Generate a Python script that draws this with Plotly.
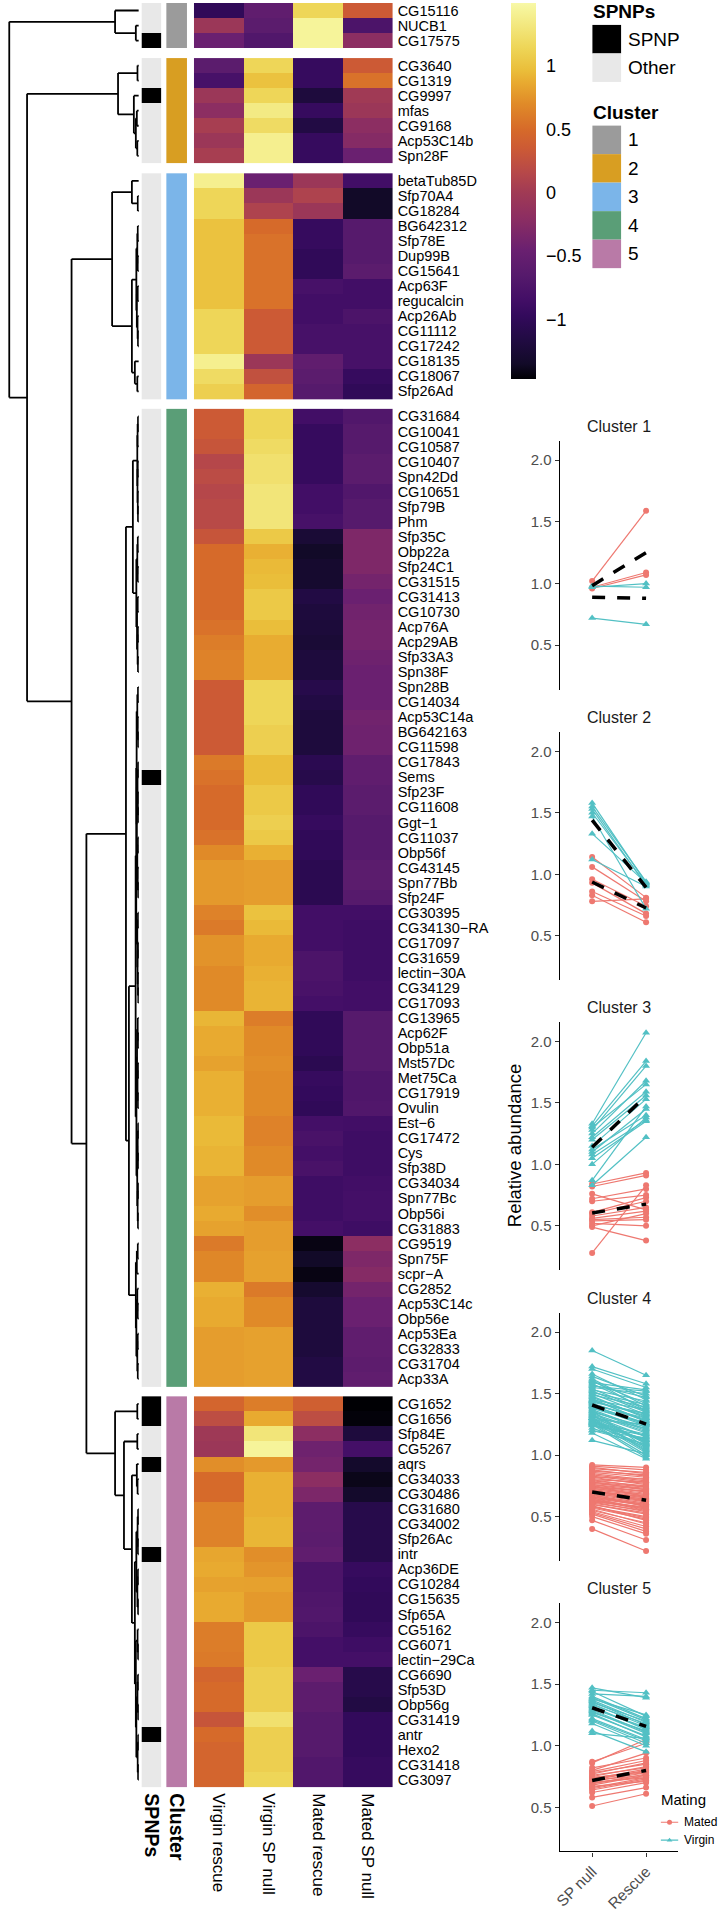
import plotly.graph_objects as go

W, H = 720, 1912
FONT = "Liberation Sans, Arial, Helvetica, sans-serif"

# ---------------- data ----------------
conditions = ["Virgin rescue", "Virgin SP null", "Mated rescue", "Mated SP null"]

cluster1_genes = ["CG15116", "NUCB1", "CG17575"]
cluster2_genes = ["CG3640", "CG1319", "CG9997", "mfas", "CG9168", "Acp53C14b", "Spn28F"]
cluster3_genes = ["betaTub85D", "Sfp70A4", "CG18284", "BG642312", "Sfp78E", "Dup99B", "CG15641",
                  "Acp63F", "regucalcin", "Acp26Ab", "CG11112", "CG17242", "CG18135", "CG18067", "Sfp26Ad"]
cluster4_genes = ["CG31684", "CG10041", "CG10587", "CG10407", "Spn42Dd", "CG10651", "Sfp79B", "Phm",
                  "Sfp35C", "Obp22a", "Sfp24C1", "CG31515", "CG31413", "CG10730", "Acp76A", "Acp29AB",
                  "Sfp33A3", "Spn38F", "Spn28B", "CG14034", "Acp53C14a", "BG642163", "CG11598", "CG17843",
                  "Sems", "Sfp23F", "CG11608", "Ggt\u22121", "CG11037", "Obp56f", "CG43145", "Spn77Bb",
                  "Sfp24F", "CG30395", "CG34130\u2212RA", "CG17097", "CG31659", "lectin\u221230A", "CG34129",
                  "CG17093", "CG13965", "Acp62F", "Obp51a", "Mst57Dc", "Met75Ca", "CG17919", "Ovulin",
                  "Est\u22126", "CG17472", "Cys", "Sfp38D", "CG34034", "Spn77Bc", "Obp56i", "CG31883",
                  "CG9519", "Spn75F", "scpr\u2212A", "CG2852", "Acp53C14c", "Obp56e", "Acp53Ea", "CG32833",
                  "CG31704", "Acp33A"]
cluster5_genes = ["CG1652", "CG1656", "Sfp84E", "CG5267", "aqrs", "CG34033", "CG30486", "CG31680",
                  "CG34002", "Sfp26Ac", "intr", "Acp36DE", "CG10284", "CG15635", "Sfp65A", "CG5162",
                  "CG6071", "lectin\u221229Ca", "CG6690", "Sfp53D", "Obp56g", "CG31419", "antr", "Hexo2",
                  "CG31418", "CG3097"]

spnp_genes = ["CG17575", "CG9997", "Sems", "CG1652", "CG1656", "aqrs", "intr", "antr"]

# scaled abundance per gene: [Virgin rescue, Virgin SP null, Mated rescue, Mated SP null]
cluster1_z = [[-1.00, -0.55, 1.15, 0.35], [-0.05, -0.60, 1.45, -0.75], [-0.45, -0.70, 1.45, -0.20]]
cluster2_z = [[-0.60, 1.15, -0.95, 0.35], [-0.80, 1.00, -0.95, 0.55], [-0.05, 1.15, -1.20, 0.00],
              [-0.20, 1.35, -0.95, -0.05], [0.05, 1.20, -1.15, -0.20], [-0.05, 1.40, -0.95, -0.25],
              [0.05, 1.40, -0.95, -0.45]]
cluster3_z = [[1.40, -0.45, -0.05, -0.85], [1.15, -0.05, 0.10, -1.35], [1.15, 0.10, -0.05, -1.35],
              [1.00, 0.50, -0.95, -0.65], [1.00, 0.55, -0.95, -0.65], [1.00, 0.55, -1.00, -0.65],
              [1.00, 0.55, -1.00, -0.60], [1.00, 0.55, -0.80, -0.85], [1.00, 0.55, -0.85, -0.85],
              [1.15, 0.35, -0.85, -0.75], [1.15, 0.35, -0.80, -0.80], [1.15, 0.35, -0.80, -0.80],
              [1.40, -0.05, -0.55, -0.80], [1.20, 0.25, -0.60, -0.95], [1.10, 0.45, -0.65, -1.00]]
cluster4_z = [[0.35, 1.15, -0.85, -0.70], [0.35, 1.15, -0.95, -0.65], [0.30, 1.20, -0.95, -0.65],
              [0.15, 1.25, -0.95, -0.60], [0.20, 1.25, -0.95, -0.60], [0.15, 1.30, -0.85, -0.70],
              [0.18, 1.30, -0.85, -0.65], [0.18, 1.30, -0.80, -0.65], [0.30, 1.05, -1.25, -0.30],
              [0.50, 0.90, -1.35, -0.30], [0.50, 0.95, -1.30, -0.30], [0.50, 0.97, -1.30, -0.38],
              [0.50, 1.05, -1.15, -0.45], [0.50, 1.05, -1.20, -0.40], [0.55, 0.97, -1.22, -0.38],
              [0.62, 0.88, -1.25, -0.38], [0.65, 0.88, -1.20, -0.42], [0.65, 0.88, -1.20, -0.45],
              [0.35, 1.15, -1.10, -0.45], [0.35, 1.15, -1.15, -0.45], [0.35, 1.15, -1.20, -0.40],
              [0.35, 1.10, -1.20, -0.42], [0.35, 1.10, -1.20, -0.42], [0.60, 0.97, -1.05, -0.55],
              [0.55, 0.97, -1.10, -0.55], [0.50, 1.05, -1.00, -0.60], [0.50, 1.05, -1.00, -0.60],
              [0.50, 1.10, -0.95, -0.65], [0.55, 1.05, -1.00, -0.65], [0.70, 0.90, -1.00, -0.65],
              [0.78, 0.80, -1.05, -0.60], [0.78, 0.80, -1.05, -0.60], [0.78, 0.80, -1.05, -0.65],
              [0.65, 1.00, -0.85, -0.85], [0.60, 0.95, -0.85, -0.88], [0.75, 0.87, -0.85, -0.88],
              [0.75, 0.87, -0.75, -0.88], [0.70, 0.90, -0.75, -0.88], [0.70, 0.92, -0.78, -0.85],
              [0.70, 0.92, -0.83, -0.85], [0.93, 0.62, -1.00, -0.65], [0.87, 0.70, -1.00, -0.65],
              [0.87, 0.70, -1.00, -0.65], [0.83, 0.72, -1.05, -0.65], [0.90, 0.70, -0.95, -0.72],
              [0.90, 0.70, -0.97, -0.72], [0.90, 0.70, -1.00, -0.70], [0.95, 0.65, -0.83, -0.85],
              [0.95, 0.65, -0.78, -0.88], [0.92, 0.70, -0.83, -0.88], [0.92, 0.70, -0.78, -0.88],
              [0.83, 0.80, -0.88, -0.85], [0.83, 0.80, -0.88, -0.83], [0.87, 0.72, -0.88, -0.83],
              [0.83, 0.80, -0.83, -0.88], [0.60, 0.80, -1.42, -0.20], [0.68, 0.82, -1.35, -0.30],
              [0.68, 0.82, -1.42, -0.25], [0.90, 0.60, -1.30, -0.38], [0.87, 0.70, -1.20, -0.45],
              [0.87, 0.70, -1.20, -0.45], [0.80, 0.82, -1.20, -0.55], [0.80, 0.82, -1.20, -0.55],
              [0.80, 0.82, -1.15, -0.58], [0.80, 0.82, -1.15, -0.55]]
cluster5_z = [[0.45, 0.62, 0.40, -1.47], [0.22, 0.87, 0.22, -1.45], [-0.02, 1.30, -0.20, -1.20],
              [-0.05, 1.45, -0.42, -0.83], [0.72, 0.78, -0.38, -1.32], [0.50, 0.90, -0.20, -1.40],
              [0.50, 0.90, -0.32, -1.32], [0.65, 0.90, -0.58, -1.10], [0.65, 0.93, -0.58, -1.10],
              [0.65, 0.93, -0.60, -1.10], [0.85, 0.72, -0.55, -1.10], [0.87, 0.76, -0.75, -0.95],
              [0.83, 0.82, -0.75, -0.98], [0.87, 0.78, -0.72, -1.00], [0.87, 0.78, -0.70, -1.00],
              [0.62, 1.05, -0.75, -0.95], [0.62, 1.05, -0.83, -0.88], [0.60, 1.05, -0.83, -0.83],
              [0.45, 1.10, -0.45, -1.10], [0.50, 1.10, -0.58, -1.10], [0.50, 1.10, -0.58, -1.15],
              [0.30, 1.25, -0.65, -0.98], [0.50, 1.10, -0.65, -0.98], [0.45, 1.10, -0.65, -0.98],
              [0.45, 1.10, -0.70, -0.95], [0.45, 1.15, -0.70, -0.95]]

cluster_names = ["1", "2", "3", "4", "5"]
cluster_colors = ["#9B9B9B", "#D89E22", "#7BB5E9", "#5A9E77", "#B97AA7"]
spnp_names = ["SPNP", "Other"]
spnp_colors = ["#000000", "#E8E8E8"]

# dendrogram merge heights (leaf = index within its cluster)
tree_c1 = [24, 0, [3, 1, 2]]
tree_c2 = [21, [1.3, 0, 1], [5, 2, [3, [2, 3, 4], [1.5, 5, 6]]]]
tree_c3 = [27, [7, 0, [1, 1, 2]],
           [7, [2.5, [1.5, [1, 3, 4], [1, 5, 6]], [2, [1, 7, 8], [1.2, 9, [0.8, 10, 11]]]],
            [4, 12, [1.5, 13, 14]]]]
tree_c4 = [13,
           [6, [1.5, [1.2, [0.8, 0, 1], 2], [1.3, [1, 3, 4], [1, 5, [0.8, 6, 7]]]],
            [2.5, [1.5, [1, 8, 9], [1, 10, 11]], [1.8, [1, 12, 13], [1.2, [0.8, 14, 15], [0.8, 16, 17]]]]],
           [10,
            [3.2,
             [2.6,
              [2.2, [1.5, [0.8, 18, 19], [1, 20, [0.6, 21, 22]]],
               [2, [1.2, [0.7, 23, 24], [0.8, 25, [0.5, 26, 27]]], [1.5, [0.8, 28, 29], [1, 30, [0.6, 31, 32]]]]],
              [1.5, [0.8, 33, 34], [1.2, [0.6, 35, 36], [0.8, 37, [0.5, 38, 39]]]]],
             [2.4, [1.8, [1, 40, [0.6, 41, 42]], [1.2, [0.7, 43, 44], [0.8, 45, 46]]],
              [1.6, [1, [0.6, 47, 48], [0.7, 49, 50]], [1.1, [0.6, 51, 52], [0.8, 53, 54]]]]],
            [3, [2, [1, 55, 56], 57], [2.5, [1.5, 58, [1, 59, 60]], [1.5, [1, 61, 62], [1, 63, 64]]]]]]
tree_c5 = [24, [1.5, 0, 1],
           [15, [1.5, 2, 3],
            [7, [2, 4, [1.2, 5, 6]],
             [4, [2.5, [1.2, [0.7, 7, 8], [0.8, 9, 10]], [1.4, [0.8, 11, 12], [0.7, 13, 14]]],
              [3, [1.2, 15, [0.7, 16, 17]],
               [2.5, [1.3, [0.8, 18, 19], [0.6, 20, 21]], [1.1, [0.6, 22, 23], [0.7, 24, 25]]]]]]]]
tree_top = [131, "C1", [113, "C2", [68, "C3", [53, "C4", "C5"]]]]

# relative abundance (line panels), one value per gene
c1_mated_spnull = [1.02, 0.97, 0.96]
c1_mated_rescue = [1.59, 1.09, 1.07]
c1_virgin_spnull = [0.72, 0.98, 0.97]
c1_virgin_rescue = [0.67, 0.97, 1.00]

c2_mated_spnull = [0.93, 0.86, 1.14, 0.78, 1.06, 0.83, 0.96]
c2_mated_rescue = [0.68, 0.66, 0.81, 0.80, 0.78, 0.61, 0.74]
c2_virgin_spnull = [1.53, 1.47, 1.58, 1.12, 1.55, 1.33, 1.50]
c2_virgin_rescue = [0.91, 0.72, 0.93, 0.90, 0.94, 0.93, 0.92]

c3_mated_spnull = [0.61, 0.56, 0.84, 0.72, 0.55, 0.58, 0.70, 0.50, 0.28, 0.82, 0.54, 0.60, 0.49, 0.76, 0.52]
c3_mated_rescue = [0.73, 0.62, 0.93, 0.80, 0.57, 0.65, 0.75, 0.60, 0.83, 0.91, 0.55, 0.70, 0.38, 0.63, 0.50]
c3_virgin_spnull = [1.20, 1.12, 1.33, 1.25, 1.05, 1.10, 1.28, 1.00, 0.83, 1.31, 1.08, 1.22, 0.87, 1.30, 1.15]
c3_virgin_rescue = [1.56, 1.40, 2.07, 1.68, 1.35, 1.45, 1.80, 1.38, 1.22, 1.84, 1.36, 1.59, 1.47, 1.65, 1.53]

c4_virgin_spnull = [1.48, 1.52, 1.45, 1.62, 1.58, 1.66, 1.60, 1.64, 1.30, 1.30, 1.25, 1.28, 1.36, 1.33,
                    1.28, 1.26, 1.29, 1.25, 1.55, 1.50, 1.54, 1.47, 1.46, 1.32, 1.31, 1.40, 1.42, 1.44,
                    1.38, 1.36, 1.32, 1.27, 1.30, 1.39, 1.37, 1.34, 1.35, 1.41, 1.43, 1.45, 1.25, 1.24,
                    1.22, 1.20, 1.29, 1.27, 1.26, 1.12, 1.18, 1.20, 1.33, 1.42, 1.40, 1.30, 1.44, 1.85,
                    1.72, 1.70, 1.49, 1.51, 1.53, 1.57, 1.56, 1.59, 1.61]
c4_virgin_rescue = [1.30, 1.35, 1.28, 1.40, 1.38, 1.45, 1.42, 1.48, 1.10, 1.05, 1.08, 1.12, 1.20, 1.18,
                    1.02, 1.00, 1.04, 0.98, 1.50, 1.33, 1.36, 1.31, 1.27, 1.15, 1.22, 1.25, 1.29, 1.32,
                    1.26, 1.06, 1.09, 1.11, 1.03, 1.24, 1.21, 1.19, 1.23, 1.30, 1.34, 1.37, 1.13, 1.16,
                    1.07, 1.14, 1.25, 1.17, 1.12, 1.01, 0.97, 1.09, 1.10, 1.28, 1.26, 1.15, 1.33, 1.65,
                    1.58, 1.55, 1.39, 1.41, 1.44, 1.47, 1.52, 1.53, 1.36]
c4_mated_spnull = [0.72, 0.68, 0.75, 0.64, 0.66, 0.60, 0.63, 0.58, 0.85, 0.90, 0.88, 0.82, 0.78, 0.80,
                   0.92, 0.91, 0.89, 0.87, 0.55, 0.62, 0.57, 0.70, 0.71, 0.79, 0.76, 0.69, 0.67, 0.65,
                   0.73, 0.84, 0.86, 0.83, 0.81, 0.74, 0.77, 0.72, 0.71, 0.66, 0.63, 0.61, 0.74, 0.70,
                   0.78, 0.69, 0.62, 0.68, 0.76, 0.80, 0.82, 0.73, 0.75, 0.64, 0.66, 0.70, 0.60, 0.40,
                   0.47, 0.52, 0.59, 0.56, 0.54, 0.53, 0.50, 0.58, 0.65]
c4_mated_rescue = [0.62, 0.58, 0.66, 0.55, 0.60, 0.52, 0.56, 0.50, 0.80, 0.85, 0.83, 0.76, 0.72, 0.74,
                   0.90, 0.88, 0.86, 0.84, 0.45, 0.54, 0.48, 0.64, 0.66, 0.75, 0.70, 0.63, 0.61, 0.59,
                   0.68, 0.79, 0.82, 0.78, 0.77, 0.69, 0.73, 0.67, 0.65, 0.60, 0.57, 0.55, 0.71, 0.66,
                   0.74, 0.63, 0.58, 0.62, 0.72, 0.78, 0.81, 0.68, 0.70, 0.57, 0.59, 0.64, 0.53, 0.22,
                   0.31, 0.38, 0.47, 0.44, 0.42, 0.40, 0.36, 0.49, 0.56]

c5_virgin_spnull = [1.38, 1.42, 1.45, 1.47, 1.22, 1.35, 1.33, 1.28, 1.30, 1.27, 1.12, 1.20, 1.25,
                    1.18, 1.21, 1.40, 1.37, 1.36, 1.32, 1.34, 1.31, 1.44, 1.29, 1.26, 1.10, 1.39]
c5_virgin_rescue = [1.25, 1.40, 1.43, 1.39, 1.05, 1.20, 1.18, 1.10, 1.15, 1.12, 0.95, 1.02, 1.08,
                    1.00, 1.04, 1.22, 1.19, 1.17, 1.13, 1.16, 1.14, 1.24, 1.11, 1.07, 1.06, 1.21]
c5_mated_spnull = [0.82, 0.78, 0.74, 0.70, 0.86, 0.72, 0.75, 0.77, 0.74, 0.76, 0.62, 0.66, 0.64,
                   0.69, 0.65, 0.68, 0.71, 0.73, 0.79, 0.70, 0.72, 0.51, 0.80, 0.67, 0.58, 0.87]
c5_mated_rescue = [0.90, 0.85, 0.78, 0.75, 1.05, 0.80, 0.83, 0.86, 0.79, 0.82, 0.70, 0.74, 0.72,
                   0.77, 0.73, 0.76, 0.78, 0.81, 0.88, 0.74, 0.76, 0.61, 0.94, 0.71, 0.66, 1.02]

treatments = ["SP null", "Rescue"]
mating_levels = ["Mated", "Virgin"]
mating_colors = ["#EE7870", "#52C0C4"]
mating_symbols = ["circle", "triangle-up"]

# heat colour ramp (inferno-like, as rendered in the figure)
heat_min, heat_max = -1.47, 1.5
heat_stops = [(-1.47, "#000004"), (-1.35, "#120A28"), (-1.15, "#220B44"), (-0.97, "#330A5C"),
              (-0.85, "#420E66"), (-0.65, "#561A6C"), (-0.45, "#6A2070"), (-0.2, "#8C2E62"),
              (0.0, "#A03A55"), (0.15, "#B5474A"), (0.35, "#CC5A35"), (0.5, "#D66A2A"),
              (0.7, "#E08A28"), (0.87, "#E8AA30"), (0.97, "#EABE3A"), (1.15, "#EED658"),
              (1.45, "#F6F49A"), (1.5, "#F8F8A8")]

# ---------------- helpers ----------------
def fx(p):
    return p / W


def fy(p):
    return 1 - p / H


heat_scale = [[(v - heat_min) / (heat_max - heat_min), c] for v, c in heat_stops]

cluster_genes = [cluster1_genes, cluster2_genes, cluster3_genes, cluster4_genes, cluster5_genes]
cluster_z = [cluster1_z, cluster2_z, cluster3_z, cluster4_z, cluster5_z]
cluster_trees = [tree_c1, tree_c2, tree_c3, tree_c4, tree_c5]
line_data = [
    (c1_mated_spnull, c1_mated_rescue, c1_virgin_spnull, c1_virgin_rescue),
    (c2_mated_spnull, c2_mated_rescue, c2_virgin_spnull, c2_virgin_rescue),
    (c3_mated_spnull, c3_mated_rescue, c3_virgin_spnull, c3_virgin_rescue),
    (c4_mated_spnull, c4_mated_rescue, c4_virgin_spnull, c4_virgin_rescue),
    (c5_mated_spnull, c5_mated_rescue, c5_virgin_spnull, c5_virgin_rescue),
]

GAP = 0.663  # gap between row slices, in row units
row_pos = []
start = 0.0
for genes in cluster_genes:
    row_pos.append([start + i for i in range(len(genes))])
    start += len(genes) + GAP
y_last = row_pos[-1][-1]

fig = go.Figure()

# ---- heatmap slices + annotation columns ----
for k, genes in enumerate(cluster_genes):
    ys = row_pos[k]
    fig.add_trace(go.Heatmap(
        x=list(range(len(conditions))), y=ys, z=cluster_z[k], coloraxis="coloraxis",
        xaxis="x", yaxis="y", hoverinfo="skip"))
    fig.add_trace(go.Heatmap(
        x=[0], y=ys, z=[[1 if g in spnp_genes else 0] for g in genes],
        colorscale=[[0, spnp_colors[1]], [1, spnp_colors[0]]], zmin=0, zmax=1,
        showscale=False, xaxis="x2", yaxis="y", hoverinfo="skip"))
    cs = [[i / (len(cluster_colors) - 1), c] for i, c in enumerate(cluster_colors)]
    fig.add_trace(go.Heatmap(
        x=[0], y=ys, z=[[k] for _ in genes], colorscale=cs, zmin=0, zmax=len(cluster_colors) - 1,
        showscale=False, xaxis="x3", yaxis="y", hoverinfo="skip"))

# ---- dendrogram ----
segs = []


def walk(node, cl):
    if isinstance(node, str):
        c = int(node[1:]) - 1
        return walk(cluster_trees[c], c)
    if isinstance(node, int):
        return row_pos[cl][node], 0.0
    h, a, b = node
    ya, ha = walk(a, cl)
    yb, hb = walk(b, cl)
    segs.append(((h, h), (ya, yb)))
    segs.append(((h, ha), (ya, ya)))
    segs.append(((h, hb), (yb, yb)))
    return (ya + yb) / 2, h


walk(tree_top, None)
dx, dy = [], []
for (xa, xb), (ya, yb) in segs:
    dx += [xa, xb, None]
    dy += [ya, yb, None]
fig.add_trace(go.Scatter(x=dx, y=dy, mode="lines", line=dict(color="black", width=1.8),
                         xaxis="x4", yaxis="y", hoverinfo="skip", showlegend=False))

# ---- line panels ----
p_top = [442, 734, 1025, 1316.7, 1608]
p_bot = [691.7, 983, 1274, 1565.7, 1857.3]
for k in range(5):
    xa, ya = f"x{5 + k}", f"y{2 + k}"
    m_sp, m_re, v_sp, v_re = line_data[k]
    groups = [(m_sp, m_re), (v_sp, v_re)]
    for gi, (sp, re) in enumerate(groups):
        xs, ys = [], []
        for a, b in zip(sp, re):
            xs += [treatments[0], treatments[1], None]
            ys += [a, b, None]
        fig.add_trace(go.Scatter(
            x=xs, y=ys, mode="lines+markers", xaxis=xa, yaxis=ya,
            line=dict(color=mating_colors[gi], width=1.2),
            marker=dict(symbol=mating_symbols[gi], size=6 if gi == 0 else 7, color=mating_colors[gi]),
            showlegend=False, hoverinfo="skip"))
    for gi, (sp, re) in enumerate(groups):
        fig.add_trace(go.Scatter(
            x=treatments, y=[sum(sp) / len(sp), sum(re) / len(re)], mode="lines",
            xaxis=xa, yaxis=ya, line=dict(color="black", width=3.5, dash="13px,12px"),
            showlegend=False, hoverinfo="skip"))

# ---- Mating legend keys ----
for gi, lvl in enumerate(mating_levels):
    fig.add_trace(go.Scatter(
        x=[0, 0.5, 1], y=[lvl] * 3, mode="lines", xaxis="x10", yaxis="y7",
        line=dict(color=mating_colors[gi], width=1.2), showlegend=False, hoverinfo="skip"))
    fig.add_trace(go.Scatter(
        x=[0.5], y=[lvl], mode="markers", xaxis="x10", yaxis="y7",
        marker=dict(symbol=mating_symbols[gi], size=5, color=mating_colors[gi]),
        showlegend=False, hoverinfo="skip"))

# ---------------- layout ----------------
hm_dom_y = [fy(1793), fy(3)]
noax = dict(showgrid=False, zeroline=False, showline=False, showticklabels=False, ticks="")
layout = dict(
    width=W, height=H, margin=dict(l=0, r=0, t=0, b=0), autosize=False,
    paper_bgcolor="white", plot_bgcolor="white",
    font=dict(family=FONT, color="black"),
    coloraxis=dict(
        colorscale=heat_scale, cmin=heat_min, cmax=heat_max,
        colorbar=dict(x=fx(510.7), xanchor="left", y=fy(191.3), yanchor="middle",
                      len=376, lenmode="pixels", thickness=25, thicknessmode="pixels",
                      outlinewidth=0, xpad=0, ypad=0,
                      tickvals=[-1, -0.5, 0, 0.5, 1],
                      ticktext=["\u22121", "\u22120.5", "0", "0.5", "1"],
                      ticks="outside", ticklen=7, tickcolor="rgba(0,0,0,0)",
                      tickfont=dict(size=18, color="black"))),
    xaxis=dict(domain=[fx(190), fx(391)], range=[-0.5, 3.5], anchor="y", side="bottom",
               tickvals=list(range(len(conditions))), ticktext=conditions, tickangle=90,
               tickfont=dict(size=17), ticks="", showgrid=False, zeroline=False, showline=False,
               ticklabelstandoff=5),
    yaxis=dict(domain=hm_dom_y, range=[y_last + 0.5, -0.5], anchor="x", side="right",
               tickvals=[p for ps in row_pos for p in ps],
               ticktext=[g for gs in cluster_genes for g in gs],
               tickfont=dict(size=14.5), ticks="", showgrid=False, zeroline=False, showline=False,
               ticklabelstandoff=4),
    xaxis2=dict(domain=[fx(137), fx(157)], range=[-0.5, 0.5], anchor="y", tickvals=[0],
                ticktext=["<b>SPNPs</b>"], tickangle=90, tickfont=dict(size=19.5), ticks="",
                showgrid=False, zeroline=False, showline=False, ticklabelstandoff=5),
    xaxis3=dict(domain=[fx(162), fx(183)], range=[-0.5, 0.5], anchor="y", tickvals=[0],
                ticktext=["<b>Cluster</b>"], tickangle=90, tickfont=dict(size=19.5), ticks="",
                showgrid=False, zeroline=False, showline=False, ticklabelstandoff=5),
    xaxis4=dict(domain=[0, fx(134.3)], range=[134.3, 0], anchor="y", **noax),
    xaxis10=dict(domain=[fx(662), fx(680)], range=[0, 1], anchor="y7", **noax),
    yaxis7=dict(domain=[fy(1855), fy(1819)], range=[1.5, -0.5], anchor="x10", type="category",
                categoryorder="array", categoryarray=mating_levels, **noax),
)
for k in range(5):
    layout[f"xaxis{5 + k}"] = dict(
        domain=[fx(560), fx(680)], range=[-0.6, 1.6], anchor=f"y{2 + k}", type="category",
        categoryorder="array", categoryarray=treatments,
        showgrid=False, zeroline=False,
        showline=(k == 4), linecolor="black", linewidth=1.3,
        ticks="outside" if k == 4 else "", ticklen=4, tickcolor="#333333",
        showticklabels=(k == 4), tickangle=-45, tickfont=dict(size=15.5, color="#4D4D4D"))
    layout[f"yaxis{2 + k}"] = dict(
        domain=[fy(p_bot[k]), fy(p_top[k])], range=[0.141, 2.159], anchor=f"x{5 + k}",
        showgrid=False, zeroline=False, showline=True, linecolor="black", linewidth=1.3,
        ticks="outside", ticklen=4, tickcolor="#333333",
        tickvals=[0.5, 1.0, 1.5, 2.0], ticktext=["0.5", "1.0", "1.5", "2.0"],
        tickfont=dict(size=15, color="#4D4D4D"))
fig.update_layout(**layout)

# ---- annotations / legend boxes ----
ann = []
shapes = []
for k in range(5):
    ann.append(dict(x=fx(620), y=fy(p_top[k] - 14), xref="paper", yref="paper", showarrow=False,
                    text=f"Cluster {cluster_names[k]}", font=dict(size=16, color="#1A1A1A"),
                    xanchor="center", yanchor="middle"))
ann.append(dict(x=fx(514.5), y=fy(1149), xref="paper", yref="paper", showarrow=False,
                text="Relative abundance", textangle=-90, font=dict(size=18.5),
                xanchor="center", yanchor="middle"))
ann.append(dict(x=fx(660), y=fy(1805), xref="paper", yref="paper", showarrow=False, text="Mating",
                font=dict(size=15), xanchor="left", yanchor="middle"))
for gi, lvl in enumerate(mating_levels):
    ann.append(dict(x=fx(684), y=fy(1828 + 18 * gi), xref="paper", yref="paper", showarrow=False,
                    text=lvl, font=dict(size=12), xanchor="left", yanchor="middle"))

# SPNPs legend
ann.append(dict(x=fx(592), y=fy(12), xref="paper", yref="paper", showarrow=False, text="<b>SPNPs</b>",
                font=dict(size=19), xanchor="left", yanchor="middle"))
box_h = 28.6
for i, (nm, col) in enumerate(zip(spnp_names, spnp_colors)):
    top = 25 + box_h * i
    shapes.append(dict(type="rect", xref="paper", yref="paper", x0=fx(593), x1=fx(622),
                       y0=fy(top + box_h), y1=fy(top), fillcolor=col, line=dict(width=0)))
    ann.append(dict(x=fx(627), y=fy(top + box_h / 2), xref="paper", yref="paper", showarrow=False,
                    text=nm, font=dict(size=19), xanchor="left", yanchor="middle"))
# Cluster legend
ann.append(dict(x=fx(592), y=fy(113), xref="paper", yref="paper", showarrow=False, text="<b>Cluster</b>",
                font=dict(size=19), xanchor="left", yanchor="middle"))
for i, (nm, col) in enumerate(zip(cluster_names, cluster_colors)):
    top = 126 + box_h * i
    shapes.append(dict(type="rect", xref="paper", yref="paper", x0=fx(593), x1=fx(622),
                       y0=fy(top + box_h), y1=fy(top), fillcolor=col, line=dict(width=0)))
    ann.append(dict(x=fx(627), y=fy(top + box_h / 2), xref="paper", yref="paper", showarrow=False,
                    text=nm, font=dict(size=19), xanchor="left", yanchor="middle"))

fig.update_layout(annotations=ann, shapes=shapes)
fig.write_html("out.html", config={"displayModeBar": False},
               post_script="document.body.style.margin='0px';")
